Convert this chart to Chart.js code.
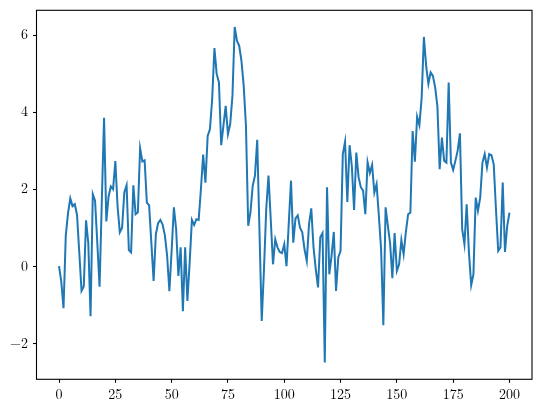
<!DOCTYPE html>
<html>
<head>
<meta charset="utf-8">
<script src="https://cdn.jsdelivr.net/npm/chart.js@4"></script>
<style>
  html, body { margin: 0; padding: 0; background: #fff; }
  #wrap { width: 541px; height: 415px; }
</style>
</head>
<body>
<div id="wrap"><canvas id="lineCanvas" width="541" height="415"></canvas></div>
<script>
// — DATA —
const xValues = Array.from({ length: 201 }, (_, i) => i);
const seriesValues = [
  0.00, -0.40, -1.09, 0.80, 1.38, 1.76, 1.56, 1.61, 1.33, 0.35,
  -0.64, -0.52, 1.19, 0.60, -1.30, 1.87, 1.70, 0.60, -0.53, 1.70,
  3.85, 1.16, 1.81, 2.07, 2.00, 2.73, 1.55, 0.88, 1.00, 1.92,
  2.10, 0.42, 0.36, 2.10, 1.35, 1.40, 3.06, 2.72, 2.75, 1.65,
  1.58, 0.60, -0.38, 0.83, 1.12, 1.20, 1.08, 0.80, 0.27, -0.65,
  0.40, 1.53, 0.96, -0.25, 0.49, -1.17, 0.49, -0.90, 0.10, 1.20,
  1.07, 1.22, 1.20, 2.00, 2.90, 2.17, 3.38, 3.55, 4.34, 5.66,
  4.99, 4.77, 3.14, 3.65, 4.16, 3.43, 3.69, 4.42, 6.21, 5.85,
  5.72, 5.33, 4.68, 3.64, 1.05, 1.40, 2.09, 2.35, 3.28, 0.90,
  -1.42, -0.08, 1.48, 2.35, 1.22, 0.05, 0.70, 0.49, 0.37, 0.34,
  0.57, 0.00, 1.10, 2.22, 0.61, 1.24, 1.32, 1.00, 0.88, 0.44,
  0.14, 1.09, 1.50, 0.49, -0.08, -0.55, 0.75, 0.86, -2.50, 2.05,
  -0.21, 0.27, 0.89, -0.64, 0.23, 0.40, 2.91, 3.23, 1.67, 3.14,
  2.60, 1.46, 2.95, 2.31, 2.05, 1.96, 1.35, 2.70, 2.42, 2.63,
  1.91, 2.13, 1.31, 0.44, -1.53, 1.53, 1.05, 0.60, -0.31, 0.86,
  -0.12, 0.05, 0.68, 0.31, 0.89, 1.35, 1.39, 3.51, 2.71, 3.88,
  3.66, 4.36, 5.95, 5.20, 4.73, 5.03, 4.94, 4.64, 4.15, 2.52,
  3.34, 2.74, 2.69, 4.77, 2.69, 2.50, 2.74, 3.00, 3.45, 0.96,
  0.57, 1.61, 0.36, -0.49, -0.21, 1.78, 1.44, 1.78, 2.69, 2.91,
  2.56, 2.91, 2.88, 2.65, 1.48, 0.40, 0.49, 2.17, 0.37, 1.05,
  1.39
];
const xTicks = [0, 25, 50, 75, 100, 125, 150, 175, 200];
const yTicks = [-2, 0, 2, 4, 6];

const FONT = { family: "'Latin Modern Roman', 'CMU Serif', 'Liberation Serif', serif", size: 14 };

/**
 * Draw the full rectangular frame (matplotlib spines) around the plot area.
 */
const framePlugin = {
  id: 'frame',
  afterDraw(chart) {
    const { ctx, chartArea: a } = chart;
    ctx.save();
    ctx.strokeStyle = '#000';
    ctx.lineWidth = 1.1;
    ctx.strokeRect(a.left, a.top, a.right - a.left, a.bottom - a.top);
    ctx.restore();
  }
};

function render_line_chart() {
  const ctx = document.getElementById('lineCanvas').getContext('2d');

  new Chart(ctx, {
    type: 'line',
    data: {
      datasets: [{
        data: xValues.map((x, i) => ({ x: x, y: seriesValues[i] })),
        borderColor: '#1f77b4',
        borderWidth: 2,
        pointRadius: 0,
        tension: 0,
        fill: false
      }]
    },
    options: {
      responsive: false,
      animation: false,
      layout: { padding: { top: 10.3, right: 9, left: 0, bottom: 0 } },
      plugins: {
        legend: { display: false },
        tooltip: { enabled: false }
      },
      scales: {
        x: {
          type: 'linear',
          min: -10,
          max: 210,
          afterBuildTicks: s => { s.ticks = xTicks.map(v => ({ value: v })); },
          afterFit: s => {
            s.height = 35.7;
            s.paddingLeft = 0;
            s.paddingRight = 0;
          },
          grid: { drawOnChartArea: false, tickLength: 3.5, tickColor: '#000', tickWidth: 1.1 },
          border: { display: false },
          ticks: { color: '#000', font: FONT, padding: 4, maxRotation: 0 }
        },
        y: {
          type: 'linear',
          min: -2.934,
          max: 6.641,
          afterBuildTicks: s => { s.ticks = yTicks.map(v => ({ value: v })); },
          afterFit: s => {
            s.width = 36.5;
            s.paddingTop = 0;
            s.paddingBottom = 0;
          },
          grid: { drawOnChartArea: false, tickLength: 3.5, tickColor: '#000', tickWidth: 1.1 },
          border: { display: false },
          ticks: {
            color: '#000',
            font: FONT,
            padding: 5,
            callback: v => (v < 0 ? '\u2212' + Math.abs(v) : String(v))
          }
        }
      }
    },
    plugins: [framePlugin]
  });
}

document.addEventListener('DOMContentLoaded', render_line_chart);
</script>
</body>
</html>
